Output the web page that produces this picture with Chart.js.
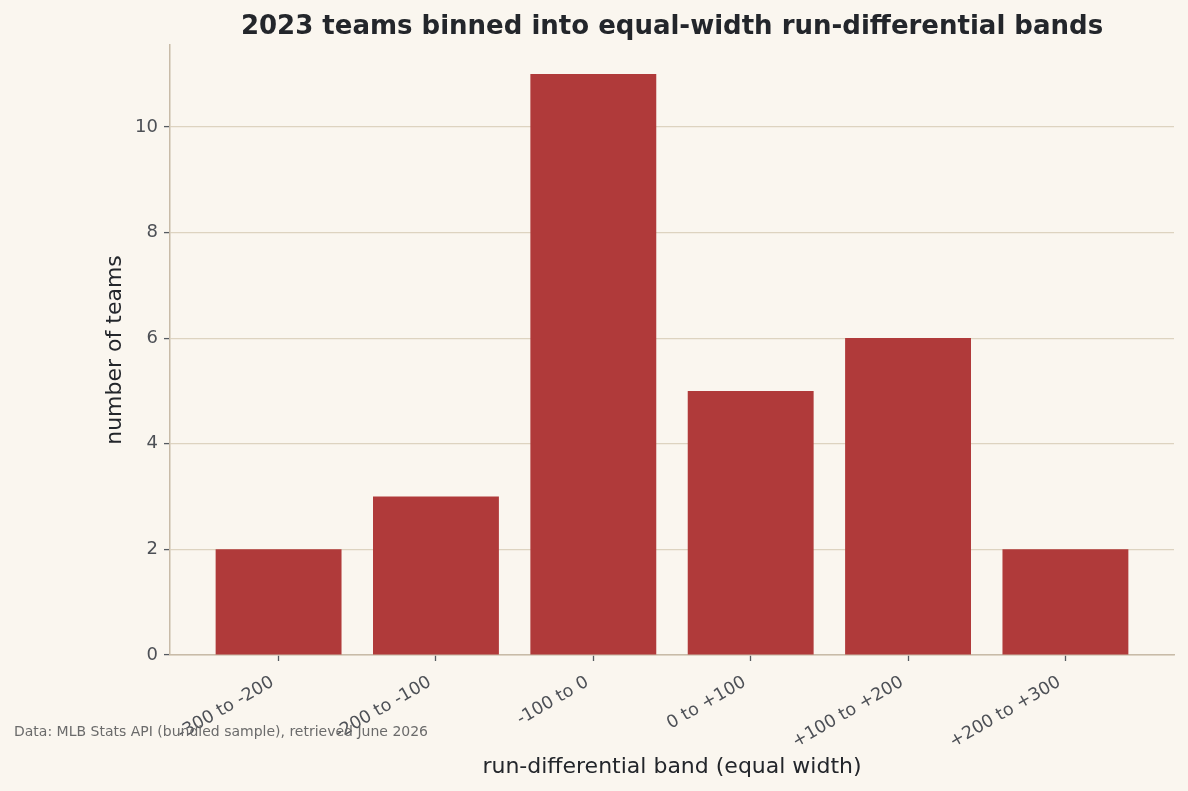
<!DOCTYPE html>
<html><head><meta charset="utf-8">
<script src="https://cdn.jsdelivr.net/npm/chart.js@4"></script>
<style>html,body{margin:0;padding:0;background:#faf6ef;}#wrap{width:1188px;height:791px;}</style>
</head><body><div id="wrap"><canvas id="c" width="1188" height="791"></canvas></div>
<script>
const categories = ["-300 to -200", "-200 to -100", "-100 to 0", "0 to +100", "+100 to +200", "+200 to +300"];
const teamCounts = [2, 3, 11, 5, 6, 2];
const yTicks = [0, 2, 4, 6, 8, 10];
const chartTitle = "2023 teams binned into equal-width run-differential bands";
const xTitle = "run-differential band (equal width)";
const yTitle = "number of teams";
const sourceNote = "Data: MLB Stats API (bundled sample), retrieved June 2026";

const FONT = "'DejaVu Sans', sans-serif";
const bg = {
  id: 'bg',
  beforeDraw(chart) {
    const ctx = chart.ctx;
    ctx.save(); ctx.fillStyle = '#faf6ef'; ctx.fillRect(0, 0, chart.width, chart.height); ctx.restore();
  },
  afterDraw(chart) {
    const ctx = chart.ctx, a = chart.chartArea;
    ctx.save();
    ctx.fillStyle = '#23262b';
    ctx.font = "bold 26px " + FONT;
    ctx.textAlign = 'center'; ctx.textBaseline = 'middle';
    ctx.fillText(chartTitle, (a.left + a.right) / 2, 27);
    ctx.fillStyle = '#6b6b6b';
    ctx.font = "14px " + FONT;
    ctx.textAlign = 'left';
    ctx.fillText(sourceNote, 14, 732);
    ctx.restore();
  }
};

new Chart(document.getElementById('c'), {
  type: 'bar',
  data: {
    datasets: [{
      data: teamCounts.map((v, i) => ({x: i, y: v})),
      backgroundColor: '#b03a3a',
      borderWidth: 0,
      categoryPercentage: 0.8,
      barPercentage: 1.0
    }]
  },
  options: {
    responsive: false,
    animation: false,
    layout: {padding: {top: 45, right: 14, left: 0, bottom: 0}},
    plugins: {legend: {display: false}, tooltip: {enabled: false}},
    scales: {
      x: {
        type: 'linear',
        offset: false,
        min: -0.69, max: 5.69,
        afterBuildTicks(scale) { scale.ticks = categories.map((c, i) => ({value: i})); },
        afterFit(scale) { scale.height = 136; },
        ticks: {
          callback: (v) => categories[v],
          autoSkip: false,
          maxRotation: 30, minRotation: 30,
          color: '#4d5056',
          font: {family: FONT, size: 17.5},
          padding: 11,
          labelOffset: -6
        },
        grid: {offset: false, drawOnChartArea: false, drawTicks: true, tickLength: 6, tickColor: '#555a60', tickWidth: 1.3},
        border: {color: '#c8bba8', width: 1.5},
        title: {display: true, text: xTitle, color: '#23262b', font: {family: FONT, size: 22}, padding: {top: 0, bottom: 11}}
      },
      y: {
        min: 0, max: 11.55,
        afterBuildTicks(scale) { scale.ticks = yTicks.map(v => ({value: v})); },
        afterFit(scale) { scale.width = 170; },
        ticks: {color: '#4d5056', font: {family: FONT, size: 18}, padding: 6},
        grid: {color: '#ddd3c0', lineWidth: 1.2, tickLength: 6, tickColor: '#555a60', tickWidth: 1.3},
        border: {color: '#c8bba8', width: 1.5},
        title: {display: true, text: yTitle, color: '#23262b', font: {family: FONT, size: 22}, padding: {top: 102, bottom: 0}}
      }
    }
  },
  plugins: [bg]
});
</script></body></html>
